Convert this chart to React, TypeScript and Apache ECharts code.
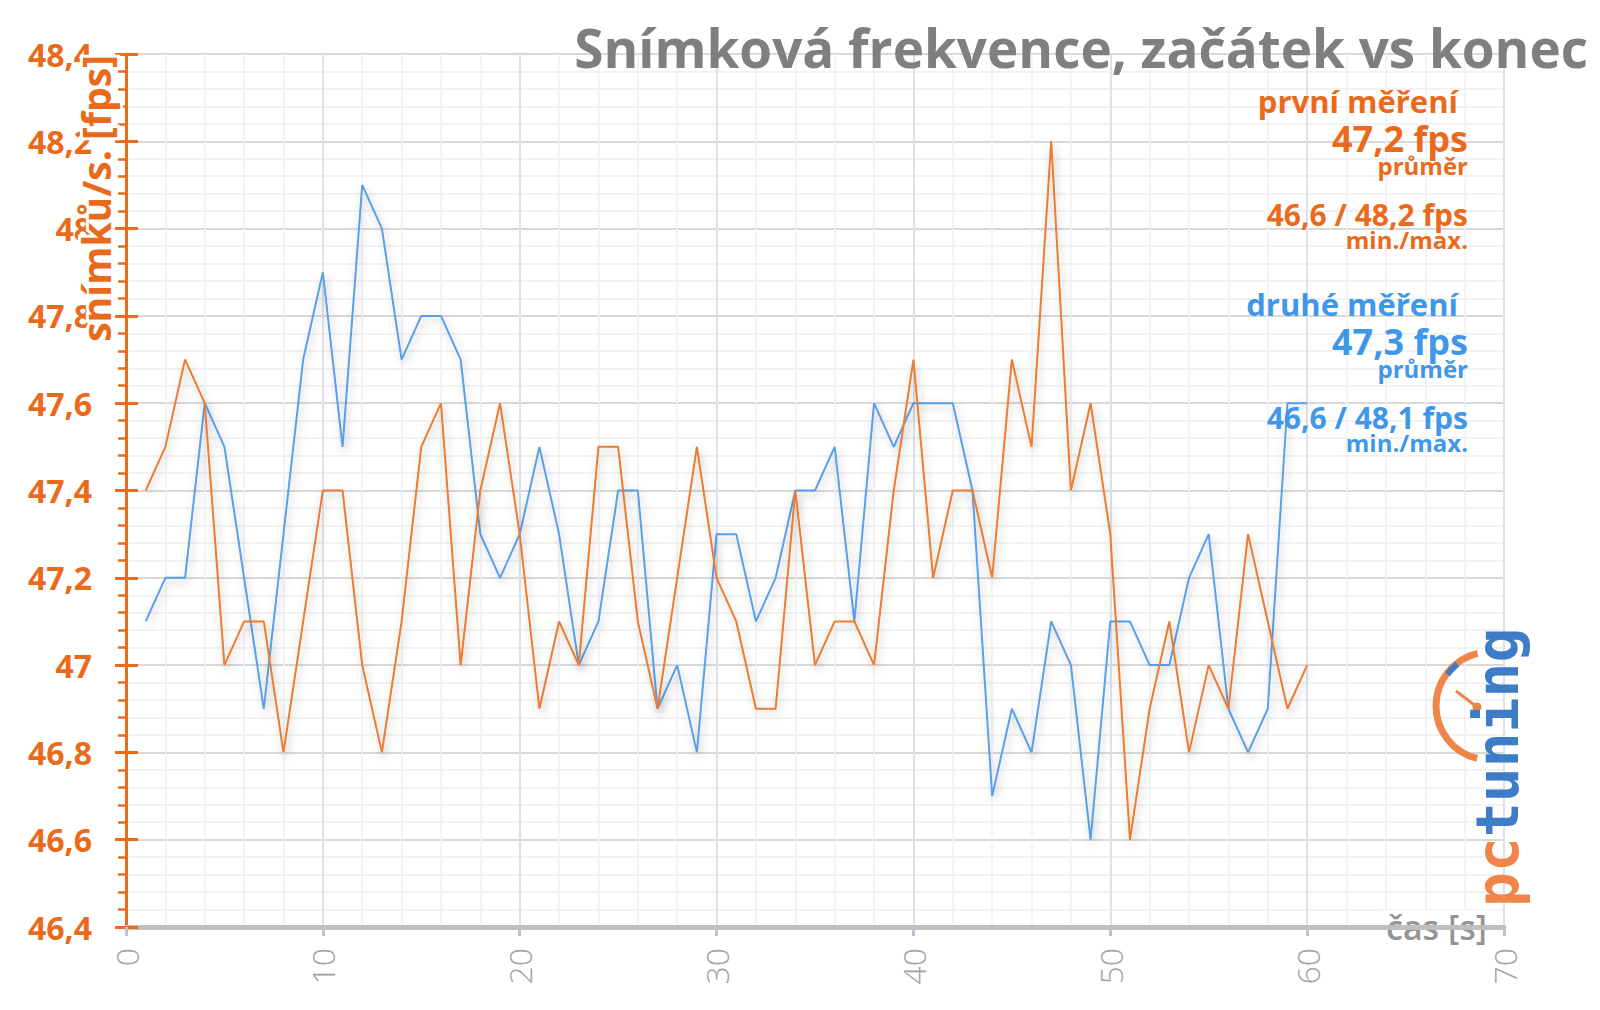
import React, { useEffect, useRef } from "react";
import * as echarts from "echarts";

const seconds = [
  1, 2, 3, 4, 5, 6, 7, 8, 9, 10, 11, 12, 13, 14, 15, 16, 17, 18, 19, 20,
  21, 22, 23, 24, 25, 26, 27, 28, 29, 30, 31, 32, 33, 34, 35, 36, 37, 38, 39, 40,
  41, 42, 43, 44, 45, 46, 47, 48, 49, 50, 51, 52, 53, 54, 55, 56, 57, 58, 59, 60,
];

const prvniMereni = [
  47.4, 47.5, 47.7, 47.6, 47.0, 47.1, 47.1, 46.8, 47.1, 47.4,
  47.4, 47.0, 46.8, 47.1, 47.5, 47.6, 47.0, 47.4, 47.6, 47.3,
  46.9, 47.1, 47.0, 47.5, 47.5, 47.1, 46.9, 47.2, 47.5, 47.2,
  47.1, 46.9, 46.9, 47.4, 47.0, 47.1, 47.1, 47.0, 47.4, 47.7,
  47.2, 47.4, 47.4, 47.2, 47.7, 47.5, 48.2, 47.4, 47.6, 47.3,
  46.6, 46.9, 47.1, 46.8, 47.0, 46.9, 47.3, 47.1, 46.9, 47.0,
];

const druheMereni = [
  47.1, 47.2, 47.2, 47.6, 47.5, 47.2, 46.9, 47.3, 47.7, 47.9,
  47.5, 48.1, 48.0, 47.7, 47.8, 47.8, 47.7, 47.3, 47.2, 47.3,
  47.5, 47.3, 47.0, 47.1, 47.4, 47.4, 46.9, 47.0, 46.8, 47.3,
  47.3, 47.1, 47.2, 47.4, 47.4, 47.5, 47.1, 47.6, 47.5, 47.6,
  47.6, 47.6, 47.4, 46.7, 46.9, 46.8, 47.1, 47.0, 46.6, 47.1,
  47.1, 47.0, 47.0, 47.2, 47.3, 46.9, 46.8, 46.9, 47.6, 47.6,
];

const titleText = "Snímková frekvence, začátek vs konec";
const yAxisTitle = "snímků/s. [fps]";
const xAxisTitle = "čas [s]";
const prvniLines = ["první měření", "47,2 fps", "průměr", "46,6 / 48,2 fps", "min./max."];
const druheLines = ["druhé měření", "47,3 fps", "průměr", "46,6 / 48,1 fps", "min./max."];

const ORANGE_TEXT = "#ea6a1c";
const BLUE_TEXT = "#3f97ea";
const ORANGE_LINE = "#ec7b33";
const BLUE_LINE = "#5aa0e8";
const FONT = "'Open Sans', Lato, sans-serif";

function fmtY(v: number): string {
  const r = Math.round(v * 10) / 10;
  if (Math.abs(r - Math.round(r)) < 1e-9) return String(Math.round(r));
  return r.toFixed(1).replace(".", ",");
}

export default function App() {
  const ref = useRef<HTMLDivElement>(null);

  useEffect(() => {
    if (!ref.current) return;
    const chart = echarts.init(ref.current, null, { renderer: "svg" });

    const annotation = (lines: string[], color: string, y0: number) => {
      const sizes = [31, 36, 24, 30, 24];
      const offs = [0, 37, 64, 113, 138];
      return lines.map((t, i) => ({
        type: "text",
        x: i === 0 ? 1458 : 1468,
        y: y0 + offs[i],
        z: 20,
        style: {
          text: t,
          fill: color,
          fontSize: sizes[i],
          fontWeight: "bold",
          fontFamily: FONT,
          align: "right",
          verticalAlign: "middle",
        },
      }));
    };

    const option: any = {
      animation: false,
      backgroundColor: "#ffffff",
      grid: { left: 126, right: 96, top: 54, bottom: 83, containLabel: false },
      xAxis: {
        type: "value",
        min: 0,
        max: 70,
        interval: 10,
        axisLine: { show: true, lineStyle: { color: "#bfbfbf", width: 5 } },
        axisTick: { show: true, length: 9, lineStyle: { color: "#bcc3cc", width: 3 } },
        axisLabel: {
          rotate: 90,
          margin: 21,
          color: "#a3a3a3",
          fontSize: 32,
          fontFamily: FONT,
          fontWeight: 300,
        },
        splitLine: { show: true, lineStyle: { color: "#dde2ea", width: 2 } },
        minorTick: { show: false, splitNumber: 5 },
        minorSplitLine: { show: true, lineStyle: { color: "#eff1f5", width: 1.5 } },
        name: xAxisTitle,
        nameLocation: "end",
        nameGap: -122,
        nameTextStyle: {
          color: "#949494",
          fontSize: 34,
          fontFamily: FONT,
          fontWeight: 600,
          backgroundColor: "#ffffff",
          padding: [0, 4, 0, 4],
          verticalAlign: "middle",
          align: "left",
        },
      },
      yAxis: [
        {
          type: "value",
          min: 46.4,
          max: 48.4,
          interval: 0.2,
          axisLine: { show: true, lineStyle: { color: "#ee6a1a", width: 3 } },
          axisTick: { show: true, length: 11, lineStyle: { color: "#ee6a1a", width: 3 } },
          minorTick: { show: true, splitNumber: 5, length: 8, lineStyle: { color: "#ee6a1a", width: 2.5 } },
          axisLabel: {
            formatter: fmtY,
            color: ORANGE_TEXT,
            fontSize: 32,
            fontWeight: "bold",
            fontFamily: FONT,
            margin: 34,
          },
          splitLine: { show: true, lineStyle: { color: "#d9d9d9", width: 2 } },
          minorSplitLine: { show: true, lineStyle: { color: "#eeeeee", width: 1.5 } },
        },
        {
          type: "value",
          min: 46.4,
          max: 48.4,
          interval: 0.2,
          position: "left",
          axisLine: { show: false },
          axisTick: { show: true, inside: true, length: 12, lineStyle: { color: "#ee6a1a", width: 3 } },
          axisLabel: { show: false },
          splitLine: { show: false },
        },
      ],
      series: [
        {
          name: "druhé měření",
          type: "line",
          yAxisIndex: 0,
          symbol: "none",
          showSymbol: false,
          data: seconds.map((s, i) => [s, druheMereni[i]]),
          lineStyle: {
            color: BLUE_LINE,
            width: 2,
            shadowBlur: 8,
            shadowColor: "rgba(0,0,0,0.25)",
            shadowOffsetX: 2,
            shadowOffsetY: 4,
          },
          z: 3,
        },
        {
          name: "první měření",
          type: "line",
          yAxisIndex: 0,
          symbol: "none",
          showSymbol: false,
          data: seconds.map((s, i) => [s, prvniMereni[i]]),
          lineStyle: {
            color: ORANGE_LINE,
            width: 2,
            shadowBlur: 8,
            shadowColor: "rgba(0,0,0,0.25)",
            shadowOffsetX: 2,
            shadowOffsetY: 4,
          },
          z: 4,
        },
      ],
      graphic: [
        {
          type: "text",
          x: 1588,
          y: 47,
          z: 20,
          style: {
            text: titleText,
            fill: "#7f7f7f",
            fontSize: 53,
            fontWeight: "bold",
            fontFamily: FONT,
            align: "right",
            verticalAlign: "middle",
          },
        },
        {
          type: "text",
          x: 95,
          y: 55,
          rotation: Math.PI / 2,
          z: 20,
          style: {
            text: yAxisTitle,
            fill: ORANGE_TEXT,
            fontSize: 39,
            fontWeight: "bold",
            fontFamily: FONT,
            align: "right",
            verticalAlign: "middle",
            stroke: "#ffffff",
            lineWidth: 6,
          },
        },
        ...annotation(prvniLines, ORANGE_TEXT, 101),
        ...annotation(druheLines, BLUE_TEXT, 304),
        {
          type: "arc",
          z: 15,
          shape: { cx: 1490, cy: 706, r: 54, startAngle: 1.81, endAngle: 4.48, clockwise: true },
          style: { stroke: "#f0854a", lineWidth: 7, fill: "none" },
        },
        {
          type: "arc",
          z: 16,
          shape: { cx: 1490, cy: 706, r: 53, startAngle: 3.78, endAngle: 4.05, clockwise: true },
          style: { stroke: "#3d7cc6", lineWidth: 6, fill: "none" },
        },
        {
          type: "line",
          z: 16,
          shape: { x1: 1456, y1: 691, x2: 1477, y2: 707 },
          style: { stroke: "#f0854a", lineWidth: 3 },
        },
        {
          type: "circle",
          z: 16,
          shape: { cx: 1477, cy: 707, r: 4.5 },
          style: { fill: "#f0854a" },
        },
        {
          type: "text",
          x: 1498,
          y: 907,
          rotation: Math.PI / 2,
          z: 16,
          style: {
            text: "{a|pc}{b|tuning}",
            align: "left",
            verticalAlign: "middle",
            rich: {
              a: { fill: "#f0854a", fontSize: 58, fontWeight: "bold", fontFamily: "'DejaVu Sans Mono', monospace" },
              b: { fill: "#3d7cc6", fontSize: 58, fontWeight: "bold", fontFamily: "'DejaVu Sans Mono', monospace" },
            },
          },
        },
      ],
    };

    chart.setOption(option);
    return () => chart.dispose();
  }, []);

  return (
    <div
      ref={ref}
      style={{ position: "absolute", left: 0, top: 0, width: 1600, height: 1010, background: "#fff" }}
    />
  );
}
